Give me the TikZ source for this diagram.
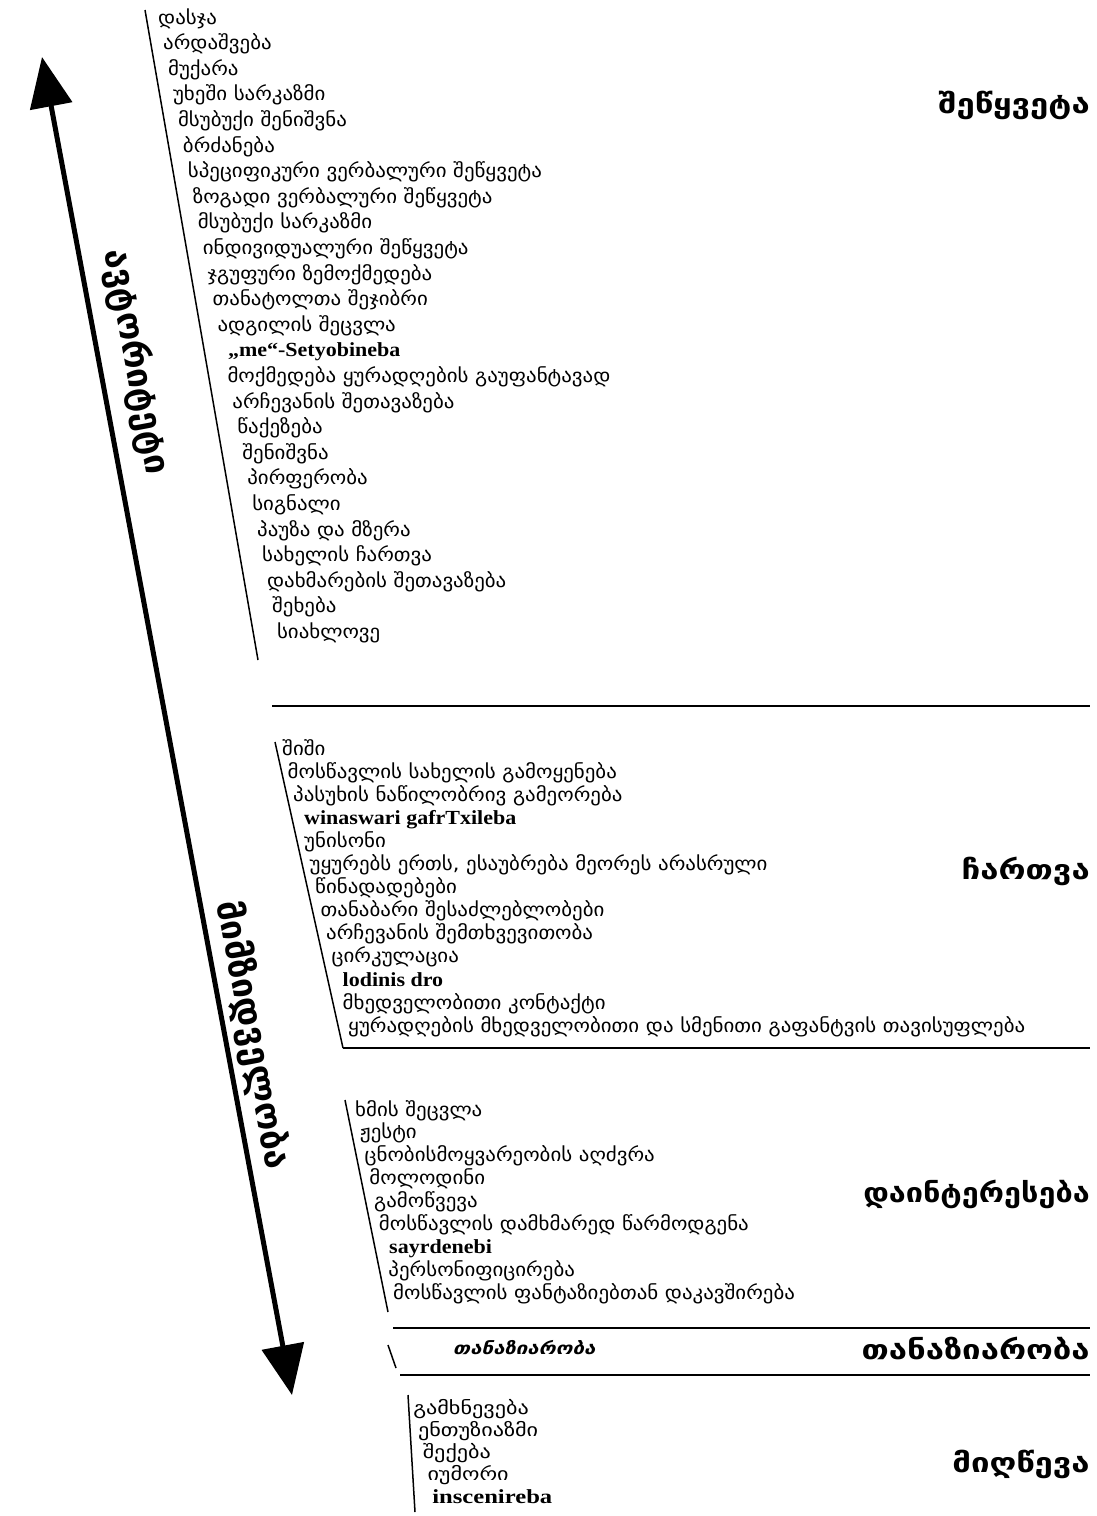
\documentclass[tikz,border=0pt]{standalone}
\usepackage{fontspec}
\setmainfont{DejaVu Sans}
\newfontfamily\latserif{Liberation Serif}
\usetikzlibrary{arrows.meta}
% transliterated entries set in bold serif
\newcommand\trl[1]{{\hspace*{5pt}\latserif\bfseries\fontsize{20}{20}\selectfont #1}}
\newcommand\trln[1]{{\latserif\bfseries\fontsize{20}{20}\selectfont #1}}
\begin{document}
\begin{tikzpicture}[x=1pt,y=-1pt,
  item/.style={anchor=base west,inner sep=0pt,xscale=1.1,font=\fontsize{19}{19}\selectfont},
  smallitem/.style={item,xscale=1.12,font=\fontsize{18}{18}\selectfont},
  head/.style={anchor=base east,inner sep=0pt,xscale=1.22,font=\bfseries\fontsize{27}{27}\selectfont},
  sidelabel/.style={inner sep=0pt,rotate=-79.4,font=\bfseries\fontsize{35}{35}\selectfont},
  bracket/.style={line width=1.5pt},
  rule/.style={line width=2.4pt},
  bigarrow/.style={line width=5pt,{Triangle[length=50pt,width=42pt]}-{Triangle[length=50pt,width=42pt]}}]
\useasboundingbox[fill=white] (0,0) rectangle (1096,1516);

% main double arrow
\coordinate (atop) at (42,57);
\coordinate (abot) at (292,1395);
\draw[bigarrow] (atop) -- (abot);
\node[sidelabel] (lab1) at (136,362) {ავტორიტეტი};
\node[sidelabel] (lab2) at (252,1035) {მიმზიდველობა};

% block 1
\coordinate (b1t) at (145,10);
\coordinate (b1b) at (258,660);
\draw[bracket] (b1t) -- (b1b);
\foreach \t [count=\i from 0] in {დასჯა,არდაშვება,მუქარა,უხეში სარკაზმი,მსუბუქი შენიშვნა,ბრძანება,სპეციფიკური ვერბალური შეწყვეტა,ზოგადი ვერბალური შეწყვეტა,მსუბუქი სარკაზმი,ინდივიდუალური შეწყვეტა,ჯგუფური ზემოქმედება,თანატოლთა შეჯიბრი,ადგილის შეცვლა,\trl{„me“-Setyobineba},მოქმედება ყურადღების გაუფანტავად,არჩევანის შეთავაზება,წაქეზება,შენიშვნა,პირფერობა,სიგნალი,პაუზა და მზერა,სახელის ჩართვა,დახმარების შეთავაზება,შეხება,სიახლოვე}
  \node[item] (a\i) at ({158+4.95*\i},{24+25.6*\i}) {\t};
\node[head] (h1) at (1090,113) {შეწყვეტა};
\coordinate (r1l) at (272,706);
\coordinate (r1r) at (1090,706);
\draw[rule] (r1l) -- (r1r);

% block 2
\coordinate (b2t) at (275,742);
\coordinate (b2b) at (343,1048);
\coordinate (b2r) at (1090,1048);
\draw[bracket] (b2t) -- (b2b);
\draw[rule] (b2b) -- (b2r);
\foreach \t [count=\i from 0] in {შიში,მოსწავლის სახელის გამოყენება,პასუხის ნაწილობრივ გამეორება,\trl{winaswari gafrTxileba},უნისონი,{უყურებს ერთს, ესაუბრება მეორეს არასრული},წინადადებები,თანაბარი შესაძლებლობები,არჩევანის შემთხვევითობა,ცირკულაცია,\trl{lodinis dro},მხედველობითი კონტაქტი,ყურადღების მხედველობითი და სმენითი გაფანტვის თავისუფლება}
  \node[item] (b\i) at ({282+5.5*\i},{755+23.1*\i}) {\t};
\node[head] (h2) at (1090,879) {ჩართვა};

% block 3
\coordinate (b3t) at (345,1100);
\coordinate (b3b) at (388,1312);
\draw[bracket] (b3t) -- (b3b);
\foreach \t [count=\i from 0] in {ხმის შეცვლა,ჟესტი,ცნობისმოყვარეობის აღძვრა,მოლოდინი,გამოწვევა,მოსწავლის დამხმარედ წარმოდგენა,\trl{sayrdenebi},პერსონიფიცირება,მოსწავლის ფანტაზიებთან დაკავშირება}
  \node[item] (c\i) at ({355+4.75*\i},{1116+22.9*\i}) {\t};
\node[head,xscale=0.93] (h3) at (1090,1202) {დაინტერესება};
\coordinate (r3l) at (393,1328);
\coordinate (r3r) at (1090,1328);
\draw[rule] (r3l) -- (r3r);

% block 4
\coordinate (b4t) at (388,1345);
\coordinate (b4b) at (396,1368);
\draw[bracket] (b4t) -- (b4b);
\node[item,xscale=1.1,font=\bfseries\itshape\fontsize{17}{17}\selectfont] (d0) at (453,1354) {თანაზიარობა};
\node[head] (h4) at (1090,1359) {თანაზიარობა};
\coordinate (r4l) at (400,1375);
\coordinate (r4r) at (1090,1375);
\draw[rule] (r4l) -- (r4r);

% block 5
\coordinate (b5t) at (408,1395);
\coordinate (b5b) at (415,1512);
\draw[bracket] (b5t) -- (b5b);
\foreach \t [count=\i from 0] in {გამხნევება,ენთუზიაზმი,შექება,იუმორი,\trln{inscenireba}}
  \node[smallitem] (e\i) at ({413+4.75*\i},{1414+22.25*\i}) {\t};
\node[head] (h5) at (1090,1472) {მიღწევა};
\end{tikzpicture}
\end{document}
